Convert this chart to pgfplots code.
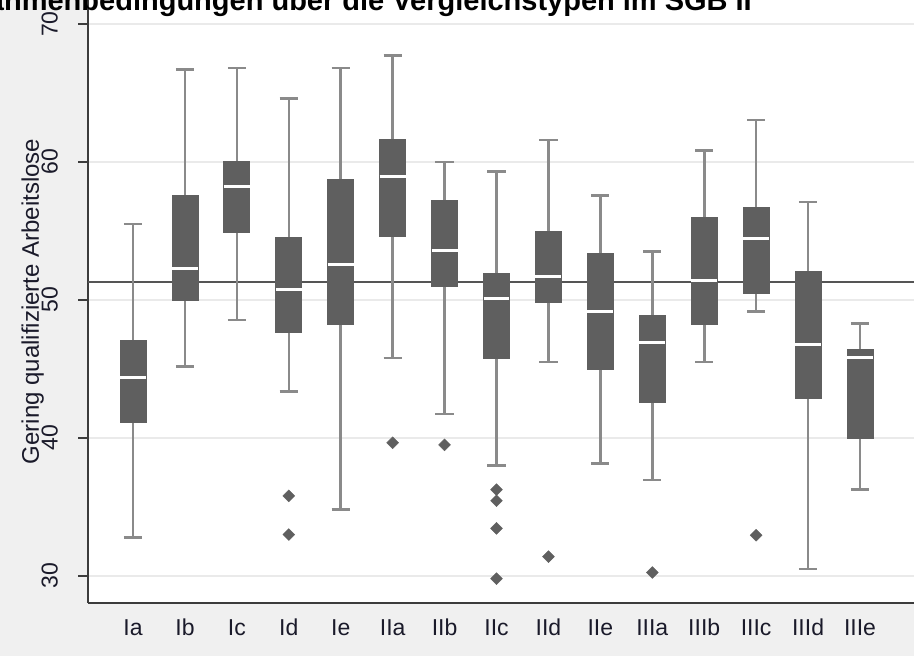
\documentclass[border=0pt]{standalone}
\usepackage{fontspec}
\setmainfont{Liberation Sans}
\usepackage{pgfplots}
\pgfplotsset{compat=1.18}
\usepgfplotslibrary{statistics}
\definecolor{bgc}{HTML}{F0F0F0}
\definecolor{boxc}{HTML}{5F5F5F}
\definecolor{whc}{HTML}{8A8A8A}
\definecolor{gridc}{HTML}{EAEAEA}
\definecolor{axc}{HTML}{3C3C3C}
\definecolor{ylc}{HTML}{555555}
\definecolor{txc}{HTML}{1A1A2A}
\begin{document}
\begin{tikzpicture}
\useasboundingbox (0,0) rectangle (914pt,656pt);
\fill[bgc] (0,0) rectangle (914pt,656pt);
\begin{axis}[
 at={(88pt,53pt)}, anchor=south west,
 scale only axis, width=826pt, height=603pt,
 xmin=0.133, xmax=16.04, ymin=28.04, ymax=71.74,
 axis background/.style={fill=white},
 axis x line*=bottom, axis y line*=left,
 axis line style={draw=axc, line width=2pt, -},
 xtick={1,...,15},
 xticklabels={Ia,Ib,Ic,Id,Ie,IIa,IIb,IIc,IId,IIe,IIIa,IIIb,IIIc,IIId,IIIe},
 ytick={30,40,50,60,70},
 ymajorgrids, grid style={draw=gridc, line width=2pt},
 tick align=outside, major tick length=10pt,
 xtick style={draw=none},
 ytick style={draw=axc, line width=2pt},
 tick label style={font=\fontsize{23}{27}\selectfont, text=txc, inner sep=0pt},
 /pgf/number format/assume math mode=true,
 yticklabel style={xshift=-20pt, rotate=90, anchor=south},
 xticklabel style={anchor=north, yshift=-6pt},
 every axis y label/.style={at={(rel axis cs:0,0.5)}, xshift=-44pt, rotate=90, anchor=south, font=\fontsize{24}{28}\selectfont, text=txc, inner sep=0pt},
 ylabel={Gering qualifizierte Arbeitslose},
 boxplot/draw direction=y,
 boxplot/box extend=0.5, boxplot/whisker extend=0.35,
 boxplot/every box/.style={fill=boxc, draw=boxc, line width=0.8pt},
 boxplot/every whisker/.style={draw=whc, line width=2.6pt},
 boxplot/every median/.style={draw=white, line width=3pt},
]
\addplot[draw=ylc, line width=2pt, forget plot] coordinates {(0.133,51.3) (16.04,51.3)};
\addplot[draw=boxc, boxplot prepared={draw position=1, lower whisker=32.8, lower quartile=41.1, median=44.4, upper quartile=47.1, upper whisker=55.5}] coordinates {};
\addplot[draw=boxc, boxplot prepared={draw position=2, lower whisker=45.2, lower quartile=50.0, median=52.25, upper quartile=57.6, upper whisker=66.7}] coordinates {};
\addplot[draw=boxc, boxplot prepared={draw position=3, lower whisker=48.55, lower quartile=54.9, median=58.2, upper quartile=60.05, upper whisker=66.8}] coordinates {};
\addplot[draw=boxc, boxplot prepared={draw position=4, lower whisker=43.35, lower quartile=47.65, median=50.75, upper quartile=54.5, upper whisker=64.6}] coordinates {};
\addplot[draw=boxc, boxplot prepared={draw position=5, lower whisker=34.8, lower quartile=48.25, median=52.6, upper quartile=58.75, upper whisker=66.8}] coordinates {};
\addplot[draw=boxc, boxplot prepared={draw position=6, lower whisker=45.8, lower quartile=54.6, median=58.95, upper quartile=61.65, upper whisker=67.7}] coordinates {};
\addplot[draw=boxc, boxplot prepared={draw position=7, lower whisker=41.75, lower quartile=51.0, median=53.55, upper quartile=57.25, upper whisker=60.0}] coordinates {};
\addplot[draw=boxc, boxplot prepared={draw position=8, lower whisker=38.0, lower quartile=45.75, median=50.1, upper quartile=51.95, upper whisker=59.3}] coordinates {};
\addplot[draw=boxc, boxplot prepared={draw position=9, lower whisker=45.5, lower quartile=49.85, median=51.7, upper quartile=55.0, upper whisker=61.6}] coordinates {};
\addplot[draw=boxc, boxplot prepared={draw position=10, lower whisker=38.15, lower quartile=45.0, median=49.2, upper quartile=53.4, upper whisker=57.55}] coordinates {};
\addplot[draw=boxc, boxplot prepared={draw position=11, lower whisker=36.95, lower quartile=42.6, median=46.9, upper quartile=48.85, upper whisker=53.5}] coordinates {};
\addplot[draw=boxc, boxplot prepared={draw position=12, lower whisker=45.5, lower quartile=48.25, median=51.4, upper quartile=56.0, upper whisker=60.85}] coordinates {};
\addplot[draw=boxc, boxplot prepared={draw position=13, lower whisker=49.15, lower quartile=50.45, median=54.45, upper quartile=56.7, upper whisker=63.05}] coordinates {};
\addplot[draw=boxc, boxplot prepared={draw position=14, lower whisker=30.5, lower quartile=42.85, median=46.8, upper quartile=52.1, upper whisker=57.1}] coordinates {};
\addplot[draw=boxc, boxplot prepared={draw position=15, lower whisker=36.25, lower quartile=40.0, median=45.8, upper quartile=46.45, upper whisker=48.3}] coordinates {};
\addplot[only marks, mark=square*, mark size=4.2pt, mark options={rotate=45, draw=boxc, fill=boxc}] coordinates {(4,35.8) (4,33.0) (6,39.65) (7,39.5) (8,36.25) (8,35.45) (8,33.45) (8,29.8) (9,31.4) (11,30.25) (13,32.95)};
\end{axis}
\node[anchor=base east, font=\bfseries\fontsize{29}{34}\selectfont, inner sep=0pt] at (752pt,645pt) {Rahmenbedingungen über die Vergleichstypen im SGB II};
\end{tikzpicture}
\end{document}
